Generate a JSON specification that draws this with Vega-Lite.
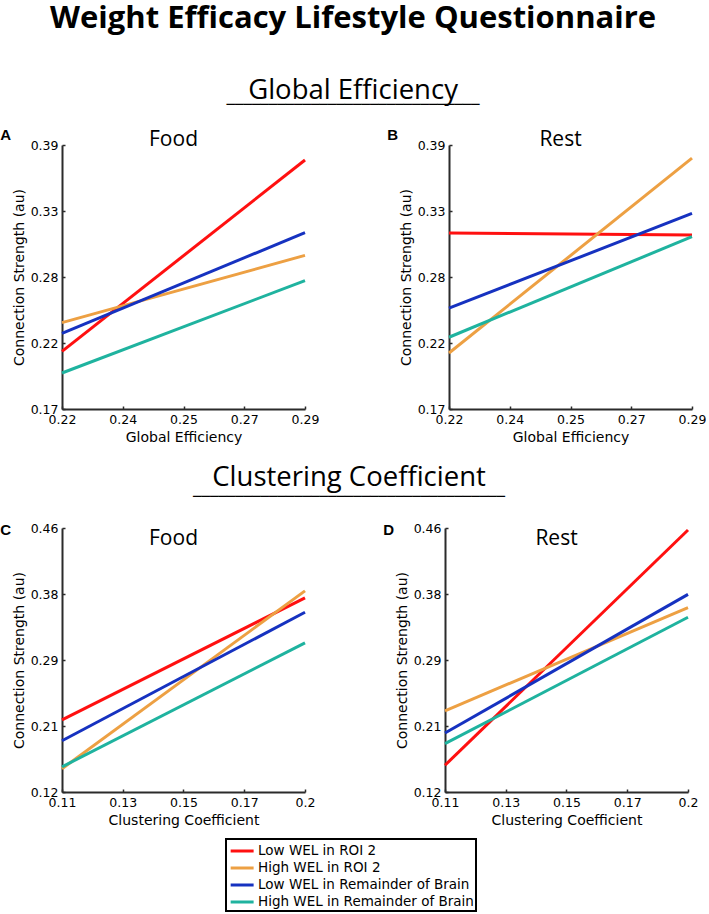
{
  "$schema": "https://vega.github.io/schema/vega-lite/v6.json",
  "padding": {"left": 0, "top": 2, "right": 0, "bottom": 0},
  "background": "white",
  "title": {"text": "Weight Efficacy Lifestyle Questionnaire", "font": "Open Sans", "fontSize": 31, "fontWeight": "bold", "color": "black", "anchor": "middle", "frame": "bounds", "offset": 42},
  "data": {"values": [
    {"panel": "A", "series": "Low WEL in ROI 2", "x": 0.22, "y": 0.218},
    {"panel": "A", "series": "Low WEL in ROI 2", "x": 0.29, "y": 0.3775},
    {"panel": "A", "series": "High WEL in ROI 2", "x": 0.22, "y": 0.242},
    {"panel": "A", "series": "High WEL in ROI 2", "x": 0.29, "y": 0.298},
    {"panel": "A", "series": "Low WEL in Remainder of Brain", "x": 0.22, "y": 0.233},
    {"panel": "A", "series": "Low WEL in Remainder of Brain", "x": 0.29, "y": 0.317},
    {"panel": "A", "series": "High WEL in Remainder of Brain", "x": 0.22, "y": 0.2},
    {"panel": "A", "series": "High WEL in Remainder of Brain", "x": 0.29, "y": 0.277},
    {"panel": "B", "series": "Low WEL in ROI 2", "x": 0.22, "y": 0.3167},
    {"panel": "B", "series": "Low WEL in ROI 2", "x": 0.29, "y": 0.315},
    {"panel": "B", "series": "High WEL in ROI 2", "x": 0.22, "y": 0.2167},
    {"panel": "B", "series": "High WEL in ROI 2", "x": 0.29, "y": 0.379},
    {"panel": "B", "series": "Low WEL in Remainder of Brain", "x": 0.22, "y": 0.254},
    {"panel": "B", "series": "Low WEL in Remainder of Brain", "x": 0.29, "y": 0.333},
    {"panel": "B", "series": "High WEL in Remainder of Brain", "x": 0.22, "y": 0.2298},
    {"panel": "B", "series": "High WEL in Remainder of Brain", "x": 0.29, "y": 0.3136},
    {"panel": "C", "series": "Low WEL in ROI 2", "x": 0.11, "y": 0.213},
    {"panel": "C", "series": "Low WEL in ROI 2", "x": 0.2, "y": 0.37},
    {"panel": "C", "series": "High WEL in ROI 2", "x": 0.11, "y": 0.15},
    {"panel": "C", "series": "High WEL in ROI 2", "x": 0.2, "y": 0.379},
    {"panel": "C", "series": "Low WEL in Remainder of Brain", "x": 0.11, "y": 0.186},
    {"panel": "C", "series": "Low WEL in Remainder of Brain", "x": 0.2, "y": 0.3515},
    {"panel": "C", "series": "High WEL in Remainder of Brain", "x": 0.11, "y": 0.1524},
    {"panel": "C", "series": "High WEL in Remainder of Brain", "x": 0.2, "y": 0.312},
    {"panel": "D", "series": "Low WEL in ROI 2", "x": 0.11, "y": 0.1545},
    {"panel": "D", "series": "Low WEL in ROI 2", "x": 0.2, "y": 0.4574},
    {"panel": "D", "series": "High WEL in ROI 2", "x": 0.11, "y": 0.2246},
    {"panel": "D", "series": "High WEL in ROI 2", "x": 0.2, "y": 0.3575},
    {"panel": "D", "series": "Low WEL in Remainder of Brain", "x": 0.11, "y": 0.196},
    {"panel": "D", "series": "Low WEL in Remainder of Brain", "x": 0.2, "y": 0.3745},
    {"panel": "D", "series": "High WEL in Remainder of Brain", "x": 0.11, "y": 0.1822},
    {"panel": "D", "series": "High WEL in Remainder of Brain", "x": 0.2, "y": 0.345}
  ]},
  "spacing": 18,
  "vconcat": [
    {
      "title": {"text": "Global Efficiency", "subtitle": "──────────────────────────────", "font": "Open Sans", "fontSize": 27.5, "fontWeight": "normal", "color": "black", "subtitleFont": "DejaVu Sans Mono", "subtitleFontSize": 14, "subtitleFontWeight": "bold", "subtitleColor": "black", "subtitlePadding": -6, "anchor": "middle", "frame": "bounds", "offset": 16},
      "spacing": 68,
      "hconcat": [
        {
          "title": {"text": "A", "anchor": "start", "frame": "bounds", "font": "Liberation Sans", "fontSize": 15, "fontWeight": "bold", "color": "black", "offset": -14, "dx": -12},
          "vconcat": [
            {
              "width": 243, "height": 264,
              "title": {"text": "Food", "font": "Open Sans", "fontSize": 21, "fontWeight": "normal", "color": "black", "offset": -11, "dx": -10},
              "transform": [{"filter": "datum.panel == 'A'"}],
              "mark": {"type": "line", "strokeWidth": 3},
              "encoding": {
                "x": {"field": "x", "type": "quantitative", "scale": {"domain": [0.22, 0.29], "nice": false, "zero": false}, "axis": {"title": "Global Efficiency", "values": [0.22, 0.2375, 0.255, 0.2725, 0.29], "labelExpr": "datum.value < 0.23 ? '0.22' : datum.value < 0.245 ? '0.24' : datum.value < 0.26 ? '0.25' : datum.value < 0.28 ? '0.27' : '0.29'"}},
                "y": {"field": "y", "type": "quantitative", "scale": {"domain": [0.17, 0.39], "nice": false, "zero": false}, "axis": {"title": "Connection Strength (au)", "values": [0.17, 0.225, 0.28, 0.335, 0.39], "labelExpr": "datum.value < 0.2 ? '0.17' : datum.value < 0.25 ? '0.22' : datum.value < 0.3 ? '0.28' : datum.value < 0.36 ? '0.33' : '0.39'"}},
                "color": {"field": "series", "type": "nominal", "sort": null, "scale": {"domain": ["Low WEL in ROI 2", "High WEL in ROI 2", "Low WEL in Remainder of Brain", "High WEL in Remainder of Brain"], "range": ["#ff1010", "#eda043", "#1632c0", "#1fb39f"]}}
              }
            }
          ]
        },
        {
          "title": {"text": "B", "anchor": "start", "frame": "bounds", "font": "Liberation Sans", "fontSize": 15, "fontWeight": "bold", "color": "black", "offset": -14, "dx": -12},
          "vconcat": [
            {
              "width": 243, "height": 264,
              "title": {"text": "Rest", "font": "Open Sans", "fontSize": 21, "fontWeight": "normal", "color": "black", "offset": -11, "dx": -10},
              "transform": [{"filter": "datum.panel == 'B'"}],
              "mark": {"type": "line", "strokeWidth": 3},
              "encoding": {
                "x": {"field": "x", "type": "quantitative", "scale": {"domain": [0.22, 0.29], "nice": false, "zero": false}, "axis": {"title": "Global Efficiency", "values": [0.22, 0.2375, 0.255, 0.2725, 0.29], "labelExpr": "datum.value < 0.23 ? '0.22' : datum.value < 0.245 ? '0.24' : datum.value < 0.26 ? '0.25' : datum.value < 0.28 ? '0.27' : '0.29'"}},
                "y": {"field": "y", "type": "quantitative", "scale": {"domain": [0.17, 0.39], "nice": false, "zero": false}, "axis": {"title": "Connection Strength (au)", "values": [0.17, 0.225, 0.28, 0.335, 0.39], "labelExpr": "datum.value < 0.2 ? '0.17' : datum.value < 0.25 ? '0.22' : datum.value < 0.3 ? '0.28' : datum.value < 0.36 ? '0.33' : '0.39'"}},
                "color": {"field": "series", "type": "nominal", "sort": null, "scale": {"domain": ["Low WEL in ROI 2", "High WEL in ROI 2", "Low WEL in Remainder of Brain", "High WEL in Remainder of Brain"], "range": ["#ff1010", "#eda043", "#1632c0", "#1fb39f"]}}
              }
            }
          ]
        }
      ]
    },
    {
      "title": {"text": "Clustering Coefficient", "subtitle": "─────────────────────────────────────", "font": "Open Sans", "fontSize": 27.5, "fontWeight": "normal", "color": "black", "subtitleFont": "DejaVu Sans Mono", "subtitleFontSize": 14, "subtitleFontWeight": "bold", "subtitleColor": "black", "subtitlePadding": -1, "anchor": "middle", "frame": "bounds", "offset": 18},
      "spacing": 68,
      "hconcat": [
        {
          "title": {"text": "C", "anchor": "start", "frame": "bounds", "font": "Liberation Sans", "fontSize": 15, "fontWeight": "bold", "color": "black", "offset": -16, "dx": -12},
          "vconcat": [
            {
              "width": 243, "height": 264,
              "title": {"text": "Food", "font": "Open Sans", "fontSize": 21, "fontWeight": "normal", "color": "black", "offset": -27, "dx": -10},
              "transform": [{"filter": "datum.panel == 'C'"}],
              "mark": {"type": "line", "strokeWidth": 3},
              "encoding": {
                "x": {"field": "x", "type": "quantitative", "scale": {"domain": [0.11, 0.2], "nice": false, "zero": false}, "axis": {"title": "Clustering Coefficient", "values": [0.11, 0.1325, 0.155, 0.1775, 0.2], "labelExpr": "datum.value < 0.12 ? '0.11' : datum.value < 0.14 ? '0.13' : datum.value < 0.16 ? '0.15' : datum.value < 0.19 ? '0.17' : '0.2'"}},
                "y": {"field": "y", "type": "quantitative", "scale": {"domain": [0.12, 0.46], "nice": false, "zero": false}, "axis": {"title": "Connection Strength (au)", "values": [0.12, 0.205, 0.29, 0.375, 0.46], "labelExpr": "datum.value < 0.15 ? '0.12' : datum.value < 0.25 ? '0.21' : datum.value < 0.33 ? '0.29' : datum.value < 0.42 ? '0.38' : '0.46'"}},
                "color": {"field": "series", "type": "nominal", "sort": null, "scale": {"domain": ["Low WEL in ROI 2", "High WEL in ROI 2", "Low WEL in Remainder of Brain", "High WEL in Remainder of Brain"], "range": ["#ff1010", "#eda043", "#1632c0", "#1fb39f"]}}
              }
            }
          ]
        },
        {
          "title": {"text": "D", "anchor": "start", "frame": "bounds", "font": "Liberation Sans", "fontSize": 15, "fontWeight": "bold", "color": "black", "offset": -16, "dx": -12},
          "vconcat": [
            {
              "width": 243, "height": 264,
              "title": {"text": "Rest", "font": "Open Sans", "fontSize": 21, "fontWeight": "normal", "color": "black", "offset": -27, "dx": -10},
              "transform": [{"filter": "datum.panel == 'D'"}],
              "mark": {"type": "line", "strokeWidth": 3},
              "encoding": {
                "x": {"field": "x", "type": "quantitative", "scale": {"domain": [0.11, 0.2], "nice": false, "zero": false}, "axis": {"title": "Clustering Coefficient", "values": [0.11, 0.1325, 0.155, 0.1775, 0.2], "labelExpr": "datum.value < 0.12 ? '0.11' : datum.value < 0.14 ? '0.13' : datum.value < 0.16 ? '0.15' : datum.value < 0.19 ? '0.17' : '0.2'"}},
                "y": {"field": "y", "type": "quantitative", "scale": {"domain": [0.12, 0.46], "nice": false, "zero": false}, "axis": {"title": "Connection Strength (au)", "values": [0.12, 0.205, 0.29, 0.375, 0.46], "labelExpr": "datum.value < 0.15 ? '0.12' : datum.value < 0.25 ? '0.21' : datum.value < 0.33 ? '0.29' : datum.value < 0.42 ? '0.38' : '0.46'"}},
                "color": {"field": "series", "type": "nominal", "sort": null, "scale": {"domain": ["Low WEL in ROI 2", "High WEL in ROI 2", "Low WEL in Remainder of Brain", "High WEL in Remainder of Brain"], "range": ["#ff1010", "#eda043", "#1632c0", "#1fb39f"]}}
              }
            }
          ]
        }
      ]
    }
  ],
  "resolve": {"scale": {"color": "shared"}},
  "config": {
    "view": {"stroke": null},
    "axis": {
      "grid": false,
      "domainColor": "#2b2b2b", "domainWidth": 2,
      "tickColor": "#2b2b2b", "tickWidth": 1.5, "tickSize": -3,
      "labelFont": "DejaVu Sans", "labelFontSize": 12.5, "labelColor": "black", "labelPadding": 7,
      "labelOverlap": false, "labelFlush": false,
      "titleFont": "DejaVu Sans", "titleFontSize": 14, "titleFontWeight": "normal", "titleColor": "black"
    },
    "axisX": {"titlePadding": 5},
    "axisY": {"titlePadding": 4},
    "legend": {
      "orient": "none", "legendX": 164, "legendY": 694,
      "title": null, "direction": "vertical",
      "symbolType": "M-0.88,0H1.87", "symbolSize": 279, "symbolStrokeWidth": 3,
      "labelFont": "DejaVu Sans", "labelFontSize": 13.5, "labelColor": "black", "labelOffset": 10,
      "rowPadding": 0, "padding": 2, "strokeColor": "black", "strokeWidth": 2,
      "labelLimit": 400
    }
  }
}
